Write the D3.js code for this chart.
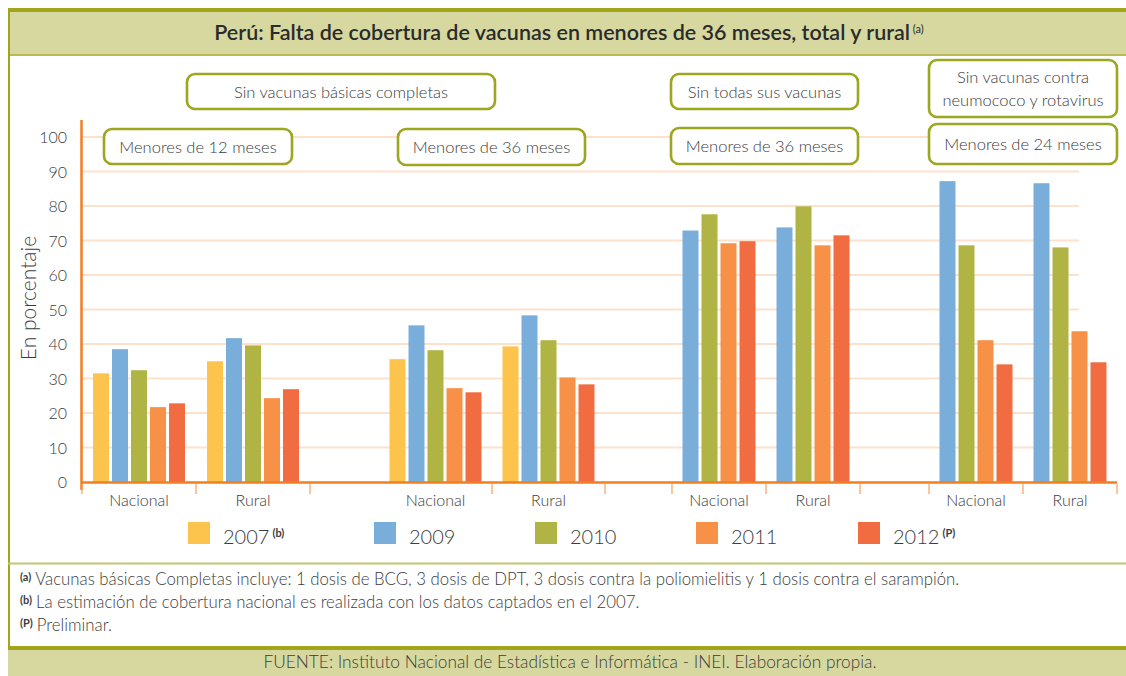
<!DOCTYPE html>
<html>
<head>
<meta charset="utf-8">
<script src="https://cdn.jsdelivr.net/npm/d3@7"></script>
<style>
  body { margin: 0; background: #fff; }
  text { font-family: Lato, 'Open Sans', sans-serif; fill: #3c3c3c; font-weight: 300; }
</style>
</head>
<body>
<svg id="chart" width="1126" height="676"></svg>
<script>
// ---- data ----
const years = ['2007', '2009', '2010', '2011', '2012'];
const yearNotes = ['(b)', '', '', '', '(P)'];
const yearColors = ['#fdc44d', '#79aedb', '#b0b445', '#f79147', '#f26c42'];

const areas = ['Nacional', 'Rural'];
const panelIds = ['basicas12', 'basicas36', 'todas36', 'neumo24'];

// one value per group: [p1 Nac, p1 Rur, p2 Nac, p2 Rur, p3 Nac, p3 Rur, p4 Nac, p4 Rur]
const v2007 = [31.5, 35.0, 35.6, 39.3, null, null, null, null];
const v2009 = [38.5, 41.7, 45.4, 48.3, 72.9, 73.8, 87.2, 86.6];
const v2010 = [32.4, 39.6, 38.2, 41.1, 77.6, 79.9, 68.6, 68.0];
const v2011 = [21.7, 24.3, 27.2, 30.3, 69.2, 68.6, 41.1, 43.7];
const v2012 = [22.8, 26.9, 26.0, 28.3, 69.8, 71.5, 34.1, 34.7];
const seriesValues = [v2007, v2009, v2010, v2011, v2012];

const yTicks = [0, 10, 20, 30, 40, 50, 60, 70, 80, 90, 100];

const title = 'Perú: Falta de cobertura de vacunas en menores de 36 meses, total y rural';
const footnotes = [
    ['(a)', 'Vacunas básicas Completas incluye: 1 dosis de BCG, 3 dosis de DPT, 3 dosis contra la poliomielitis y 1 dosis contra el sarampión.'],
    ['(b)', 'La estimación de cobertura nacional es realizada con los datos captados en el 2007.'],
    ['(P)', 'Preliminar.']
];
const source = 'FUENTE: Instituto Nacional de Estadística e Informática - INEI. Elaboración propia.';

// ---- layout ----
const olive = '#a2a41c';
const oliveLight = '#d6d89f';
const boxStroke = '#9ca61f';
const axisOrange = '#f07f22';
const gridColor = '#fde1cb';

const panelRanges = [[82, 310], [379, 605], [672, 860], [929, 1117]];
const barStep = 19, barWidth = 16;

const annotations = [
    { lines: ['Sin vacunas básicas completas'], x: 187, y: 74, w: 308, h: 35 },
    { lines: ['Menores de 12 meses'], x: 104, y: 129, w: 188, h: 35 },
    { lines: ['Menores de 36 meses'], x: 398, y: 129, w: 187, h: 36 },
    { lines: ['Sin todas sus vacunas'], x: 671, y: 74, w: 187, h: 35 },
    { lines: ['Menores de 36 meses'], x: 671, y: 128, w: 187, h: 36 },
    { lines: ['Sin vacunas contra', 'neumococo y rotavirus'], x: 929, y: 60, w: 188, h: 57 },
    { lines: ['Menores de 24 meses'], x: 929, y: 124, w: 188, h: 40 }
];

const legendX = [188, 374, 535, 696, 858];

const svg = d3.select('#chart');

// ---- frame ----
svg.append('rect').attr('x', 8).attr('y', 8).attr('width', 1118).attr('height', 48).attr('fill', oliveLight);
svg.append('rect').attr('x', 8).attr('y', 8).attr('width', 1118).attr('height', 4).attr('fill', olive);
svg.append('line').attr('x1', 8).attr('x2', 1126).attr('y1', 55).attr('y2', 55)
    .attr('stroke', '#b9bb55').attr('stroke-width', 2);
svg.append('line').attr('x1', 9).attr('x2', 9).attr('y1', 8).attr('y2', 676)
    .attr('stroke', olive).attr('stroke-width', 2);
svg.append('line').attr('x1', 8).attr('x2', 1126).attr('y1', 563.5).attr('y2', 563.5)
    .attr('stroke', '#c3c573').attr('stroke-width', 2);
svg.append('rect').attr('x', 8).attr('y', 646).attr('width', 1118).attr('height', 30).attr('fill', oliveLight);
svg.append('rect').attr('x', 8).attr('y', 646).attr('width', 1118).attr('height', 4).attr('fill', olive);

const titleText = svg.append('text')
    .attr('x', 569).attr('y', 40)
    .attr('text-anchor', 'middle')
    .style('font-size', '21.5px')
    .style('font-weight', 600)
    .style('fill', '#2b2b2b')
    .text(title);
titleText.append('tspan')
    .attr('dy', -7)
    .style('font-size', '11px')
    .style('font-weight', 'normal')
    .text(' (a)');

// ---- scales ----
const y = d3.scaleLinear().domain([0, 100]).range([482, 137]);

const groupScales = panelIds.map((id, i) =>
    d3.scaleBand().domain(areas).range(panelRanges[i]));

// ---- grid ----
svg.append('g')
    .selectAll('line')
    .data(yTicks.filter(t => t > 0))
    .join('line')
    .attr('x1', 82).attr('x2', 1079)
    .attr('y1', d => y(d)).attr('y2', d => y(d))
    .attr('stroke', gridColor).attr('stroke-width', 2);

// ---- bars ----
const groups = [];
panelIds.forEach((id, p) => {
    areas.forEach((area, a) => {
        const gi = p * areas.length + a;
        const present = years.filter((yr, s) => seriesValues[s][gi] != null);
        const gx = groupScales[p];
        const center = gx(area) + gx.bandwidth() / 2;
        const span = present.length * barStep;
        const x1 = d3.scaleBand()
            .domain(present)
            .range([center - span / 2, center + span / 2])
            .paddingInner((barStep - barWidth) / barStep)
            .paddingOuter((barStep - barWidth) / barStep / 2);
        groups.push({ p, area, gi, x1, center });
    });
});

const barLayer = svg.append('g');
groups.forEach(g => {
    const bars = years
        .map((yr, s) => ({ yr, s, v: seriesValues[s][g.gi] }))
        .filter(d => d.v != null);
    barLayer.selectAll(null)
        .data(bars)
        .join('rect')
        .attr('x', d => g.x1(d.yr))
        .attr('width', g.x1.bandwidth())
        .attr('y', d => y(d.v))
        .attr('height', d => y(0) - y(d.v))
        .attr('fill', d => yearColors[d.s]);
});

// ---- axes ----
const axisG = svg.append('g');
axisG.append('line')
    .attr('x1', 81).attr('x2', 1117)
    .attr('y1', y(0) + 0.5).attr('y2', y(0) + 0.5)
    .attr('stroke', axisOrange).attr('stroke-width', 2.5);
axisG.append('line')
    .attr('x1', 81.5).attr('x2', 81.5)
    .attr('y1', 120).attr('y2', 490)
    .attr('stroke', axisOrange).attr('stroke-width', 2.5);

const tickXs = [];
panelIds.forEach((id, i) => {
    const gx = groupScales[i];
    areas.forEach(area => tickXs.push(gx(area) + gx.bandwidth()));
    if (i !== 1) tickXs.push(gx.range()[0]);
});
axisG.selectAll('.xtick')
    .data(tickXs)
    .join('line')
    .attr('class', 'xtick')
    .attr('x1', d => d).attr('x2', d => d)
    .attr('y1', y(0) + 2).attr('y2', y(0) + 12)
    .attr('stroke', '#f5a15e').attr('stroke-width', 1.2);

axisG.selectAll('.xlabel')
    .data(groups)
    .join('text')
    .attr('class', 'xlabel')
    .attr('x', d => groupScales[d.p](d.area) + groupScales[d.p].bandwidth() / 2)
    .attr('y', 506)
    .attr('text-anchor', 'middle')
    .style('font-size', '16px')
    .text(d => d.area);

axisG.selectAll('.ylabel')
    .data(yTicks)
    .join('text')
    .attr('class', 'ylabel')
    .attr('x', 67)
    .attr('y', d => y(d) + 6)
    .attr('text-anchor', 'end')
    .style('font-size', '16px')
    .text(d => d);

svg.append('text')
    .attr('transform', 'translate(36,298) rotate(-90)')
    .attr('text-anchor', 'middle')
    .style('font-size', '21px')
    .text('En porcentaje');

// ---- annotation boxes ----
const ann = svg.append('g').selectAll('g')
    .data(annotations)
    .join('g')
    .attr('transform', d => `translate(${d.x},${d.y})`);
ann.append('rect')
    .attr('width', d => d.w).attr('height', d => d.h)
    .attr('rx', 8)
    .attr('fill', '#fff')
    .attr('stroke', boxStroke).attr('stroke-width', 2.6);
ann.each(function(d) {
    const lh = 23;
    const top = d.h / 2 - (d.lines.length - 1) * lh / 2 + 6;
    d3.select(this).selectAll('text')
        .data(d.lines)
        .join('text')
        .attr('x', d.w / 2)
        .attr('y', (l, i) => top + i * lh)
        .attr('text-anchor', 'middle')
        .style('font-size', '16.5px')
        .text(l => l);
});

// ---- legend ----
const leg = svg.append('g').selectAll('g')
    .data(years)
    .join('g')
    .attr('transform', (d, i) => `translate(${legendX[i]},522)`);
leg.append('rect')
    .attr('width', 22).attr('height', 22)
    .attr('fill', (d, i) => yearColors[i]);
const legText = leg.append('text')
    .attr('x', 35).attr('y', 22)
    .style('font-size', '20px')
    .text(d => d);
legText.append('tspan')
    .attr('dy', -7)
    .attr('dx', 3)
    .style('font-size', '11px')
    .style('font-weight', 'bold')
    .text((d, i) => yearNotes[i]);

// ---- footnotes ----
const fn = svg.append('g').selectAll('text')
    .data(footnotes)
    .join('text')
    .attr('x', 20)
    .attr('y', (d, i) => 585 + i * 23)
    .style('font-size', '16.8px');
fn.append('tspan')
    .attr('dy', -4)
    .style('font-size', '11px')
    .style('font-weight', 'bold')
    .text(d => d[0]);
fn.append('tspan')
    .attr('dy', 4)
    .attr('dx', 4)
    .text(d => d[1]);

svg.append('text')
    .attr('x', 570).attr('y', 668)
    .attr('text-anchor', 'middle')
    .style('font-size', '17.3px')
    .text(source);
</script>
</body>
</html>
